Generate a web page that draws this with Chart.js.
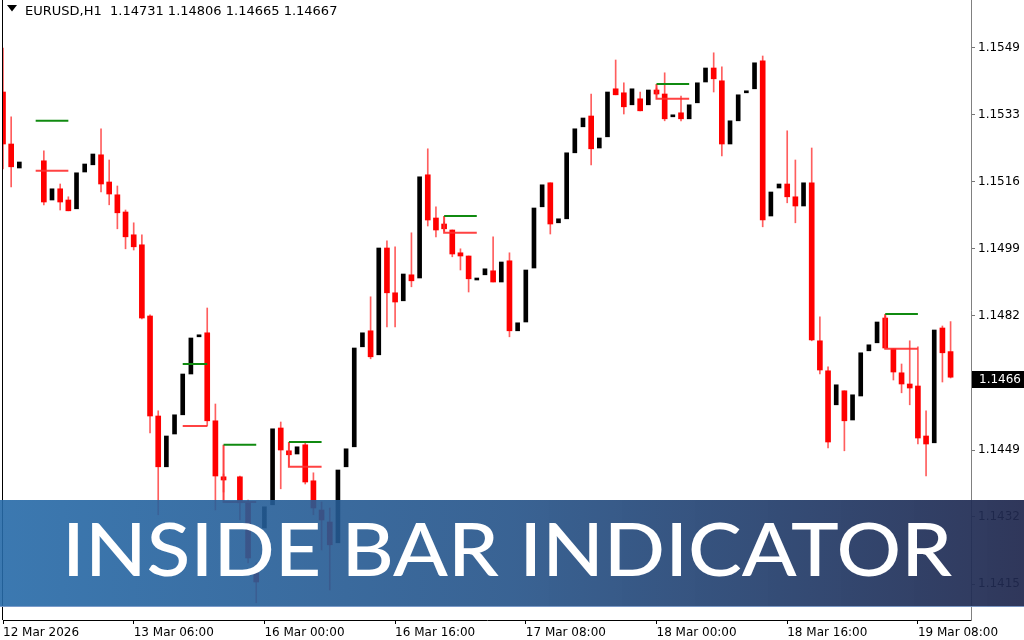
<!DOCTYPE html>
<html>
<head>
<meta charset="utf-8">
<title>EURUSD H1 - Inside Bar Indicator</title>
<script src="https://cdn.jsdelivr.net/npm/chart.js@4.4.1/dist/chart.umd.min.js"></script>
<style>
  html, body { margin: 0; padding: 0; background: #fff; }
  #wrap { width: 1024px; height: 640px; position: relative; }
</style>
</head>
<body>
<div id="wrap"><canvas id="chart" width="1024" height="640"></canvas></div>
<script>
// hourly bars, index 0 = 12 Mar 2026 (null = no bar drawn)
var opens = [
  1.15380, 1.15250, 1.15190, null, null, 1.15208, 1.15110, 1.15138, 1.15110, 1.15088,
  1.15180, 1.15198, 1.15223, 1.15155, 1.15123, 1.15080, 1.15023, 1.14998, 1.14820, 1.14570,
  1.14443, 1.14525, 1.14573, 1.14675, 1.14768, 1.14778, 1.14558, 1.14418, null, 1.14418,
  1.14355, 1.14180, 1.14290, 1.14348, 1.14540, 1.14483, 1.14475, 1.14498, 1.14408, 1.14335,
  1.14305, 1.14253, 1.14443, 1.14493, 1.14743, 1.14783, 1.14723, 1.14990, 1.14878, 1.14858,
  1.14923, 1.14915, 1.15173, 1.15065, 1.15050, 1.15035, 1.14978, 1.14970, 1.14910, 1.14923,
  1.14933, 1.14905, 1.14958, 1.14783, 1.14805, 1.14940, 1.15093, 1.15153, 1.15053, 1.15063,
  1.15228, 1.15293, 1.15320, 1.15240, 1.15268, 1.15388, 1.15378, 1.15348, 1.15363, 1.15348,
  1.15385, 1.15375, 1.15318, 1.15328, 1.15313, 1.15353, 1.15405, 1.15440, 1.15408, 1.15250,
  1.15308, 1.15378, 1.15388, 1.15458, 1.15070, 1.15140, 1.15150, 1.15118, 1.15095, 1.15153,
  1.14758, 1.14683, 1.14598, 1.14633, 1.14560, 1.14620, 1.14733, 1.14753, 1.14815, 1.14738,
  1.14678, 1.14650, 1.14645, 1.14520, 1.14503, 1.14790, 1.14731
];
var highs = [
  1.15490, 1.15318, 1.15205, null, null, 1.15233, 1.15138, 1.15150, 1.15118, 1.15178,
  1.15200, 1.15225, 1.15288, 1.15210, 1.15145, 1.15085, 1.15053, 1.15023, 1.14823, 1.14583,
  1.14520, 1.14573, 1.14675, 1.14765, 1.14770, 1.14840, 1.14600, 1.14425, null, 1.14420,
  1.14360, 1.14203, 1.14343, 1.14538, 1.14555, 1.14483, 1.14493, 1.14503, 1.14428, 1.14355,
  1.14340, 1.14435, 1.14488, 1.14740, 1.14778, 1.14868, 1.14990, 1.15008, 1.14993, 1.14925,
  1.15028, 1.15168, 1.15238, 1.15093, 1.15055, 1.15035, 1.14988, 1.14970, 1.14915, 1.14938,
  1.15018, 1.14955, 1.14978, 1.14803, 1.14935, 1.15090, 1.15148, 1.15153, 1.15063, 1.15228,
  1.15288, 1.15315, 1.15375, 1.15265, 1.15380, 1.15460, 1.15403, 1.15388, 1.15380, 1.15385,
  1.15390, 1.15428, 1.15323, 1.15370, 1.15348, 1.15403, 1.15440, 1.15478, 1.15443, 1.15308,
  1.15373, 1.15383, 1.15453, 1.15470, 1.15130, 1.15150, 1.15283, 1.15210, 1.15153, 1.15240,
  1.14818, 1.14693, 1.14648, 1.14633, 1.14623, 1.14728, 1.14748, 1.14805, 1.14820, 1.14738,
  1.14700, 1.14758, 1.14743, 1.14583, 1.14785, 1.14795, 1.14806
];
var lows = [
  1.15188, 1.15143, 1.15190, null, null, 1.15098, 1.15110, 1.15085, 1.15083, 1.15088,
  1.15180, 1.15198, 1.15130, 1.15098, 1.15038, 1.14988, 1.14985, 1.14813, 1.14528, 1.14323,
  1.14443, 1.14525, 1.14573, 1.14675, 1.14768, 1.14545, 1.14335, 1.14380, null, 1.14310,
  1.14203, 1.14103, 1.14290, 1.14348, 1.14388, 1.14473, 1.14475, 1.14400, 1.14323, 1.14235,
  1.14135, 1.14253, 1.14443, 1.14493, 1.14743, 1.14713, 1.14723, 1.14793, 1.14793, 1.14858,
  1.14893, 1.14915, 1.15045, 1.15018, 1.15033, 1.14968, 1.14935, 1.14880, 1.14910, 1.14923,
  1.14905, 1.14905, 1.14768, 1.14783, 1.14805, 1.14940, 1.15093, 1.15025, 1.15053, 1.15063,
  1.15228, 1.15293, 1.15198, 1.15240, 1.15268, 1.15373, 1.15325, 1.15348, 1.15333, 1.15348,
  1.15373, 1.15308, 1.15318, 1.15308, 1.15313, 1.15353, 1.15405, 1.15380, 1.15220, 1.15250,
  1.15308, 1.15378, 1.15388, 1.15043, 1.15070, 1.15140, 1.15103, 1.15053, 1.15095, 1.14758,
  1.14675, 1.14490, 1.14598, 1.14483, 1.14560, 1.14620, 1.14733, 1.14753, 1.14740, 1.14660,
  1.14628, 1.14598, 1.14500, 1.14420, 1.14503, 1.14655, 1.14665
];
var closes = [
  1.15250, 1.15193, 1.15205, null, null, 1.15105, 1.15138, 1.15105, 1.15083, 1.15178,
  1.15200, 1.15225, 1.15150, 1.15125, 1.15078, 1.15018, 1.14993, 1.14815, 1.14570, 1.14443,
  1.14520, 1.14573, 1.14675, 1.14765, 1.14770, 1.14558, 1.14420, 1.14410, null, 1.14353,
  1.14215, 1.14155, 1.14343, 1.14538, 1.14485, 1.14473, 1.14493, 1.14405, 1.14340, 1.14310,
  1.14248, 1.14435, 1.14488, 1.14740, 1.14778, 1.14718, 1.14990, 1.14878, 1.14855, 1.14925,
  1.14908, 1.15168, 1.15060, 1.15035, 1.15038, 1.14975, 1.14970, 1.14913, 1.14915, 1.14938,
  1.14905, 1.14955, 1.14783, 1.14803, 1.14935, 1.15090, 1.15148, 1.15050, 1.15063, 1.15228,
  1.15288, 1.15315, 1.15238, 1.15265, 1.15380, 1.15373, 1.15343, 1.15388, 1.15333, 1.15385,
  1.15375, 1.15313, 1.15323, 1.15313, 1.15348, 1.15403, 1.15440, 1.15413, 1.15250, 1.15308,
  1.15373, 1.15383, 1.15453, 1.15060, 1.15130, 1.15150, 1.15118, 1.15095, 1.15153, 1.14760,
  1.14685, 1.14505, 1.14648, 1.14558, 1.14623, 1.14728, 1.14748, 1.14805, 1.14740, 1.14680,
  1.14650, 1.14640, 1.14515, 1.14500, 1.14785, 1.14728, 1.14667
];

// inside bar levels: start bar, end bar, mother high (green), mother low (red)
var ibStart = [4, 22, 27, 35, 54, 80, 108];
var ibEnd   = [8, 25, 31, 39, 58, 84, 112];
var ibHigh  = [1.15308, 1.14700, 1.14498, 1.14505, 1.15070, 1.15400, 1.14825];
var ibLow   = [1.15183, 1.14545, 1.14355, 1.14443, 1.15028, 1.15363, 1.14738];
var ibStem  = [false, false, true, true, true, true, true];

// axis
var xTickBars   = [0, 16, 32, 48, 64, 80, 96, 112];
var xTickLabels = ['12 Mar 2026', '13 Mar 06:00', '16 Mar 00:00', '16 Mar 16:00',
                   '17 Mar 08:00', '18 Mar 00:00', '18 Mar 16:00', '19 Mar 08:00'];
var yTickValues = [1.1549, 1.153225, 1.15155, 1.149875, 1.1482, 1.146525, 1.14485, 1.143175, 1.1415];
var yTickLabels = ['1.1549', '1.1533', '1.1516', '1.1499', '1.1482', '1.1466', '1.1449', '1.1432', '1.1415'];
var lastPrice = 1.14667;
var header = 'EURUSD,H1  1.14731 1.14806 1.14665 1.14667';
var banner = 'INSIDE BAR INDICATOR';

var wicks = [], wickColors = [], redBodies = [], blackBodies = [];
for (var i = 0; i < opens.length; i++) {
  if (opens[i] == null) continue;
  var bear = closes[i] < opens[i];
  if (highs[i] > Math.max(opens[i], closes[i]) || lows[i] < Math.min(opens[i], closes[i])) {
    wicks.push({x: i, y: [lows[i], highs[i]]});
    wickColors.push(bear ? 'rgba(255,40,40,0.75)' : '#000');
  }
  if (bear) redBodies.push({x: i, y: [opens[i], closes[i]]});
  else blackBodies.push({x: i, y: [opens[i], closes[i]]});
}

var datasets = [
  {type: 'bar', data: wicks, backgroundColor: wickColors, barThickness: 1, grouped: false, order: 3},
  {type: 'bar', data: redBodies, backgroundColor: '#ff0000', barThickness: 5, minBarLength: 2, grouped: false, order: 2},
  {type: 'bar', data: blackBodies, backgroundColor: '#000', barThickness: 4, minBarLength: 2, grouped: false, order: 2}
];
ibStart.forEach(function (s, k) {
  var e = ibEnd[k];
  var red = ibStem[k]
    ? [{x: s, y: ibHigh[k]}, {x: s, y: ibLow[k]}, {x: e, y: ibLow[k]}]
    : [{x: s, y: ibLow[k]}, {x: e, y: ibLow[k]}];
  datasets.push({type: 'line', data: red, borderColor: 'rgba(255,45,45,0.9)', borderWidth: 2,
    pointRadius: 0, tension: 0, borderJoinStyle: 'miter', order: 1});
  datasets.push({type: 'line', data: [{x: s, y: ibHigh[k]}, {x: e, y: ibHigh[k]}],
    borderColor: '#108a10', borderWidth: 2, pointRadius: 0, tension: 0, order: 0});
});

var mt4Plugin = {
  id: 'mt4',
  beforeDatasetsDraw: function (chart) {
    var c = chart.ctx, a = chart.chartArea;
    c.save();
    c.strokeStyle = '#000';
    c.lineWidth = 1;
    c.beginPath();
    c.moveTo(a.left - 0.5, 0);
    c.lineTo(a.left - 0.5, a.bottom);
    c.stroke();
    c.restore();
  },
  afterDraw: function (chart) {
    var c = chart.ctx, a = chart.chartArea;
    var y = Math.round(chart.scales.y.getPixelForValue(lastPrice));
    c.save();
    // current price box
    c.fillStyle = '#000';
    c.fillRect(a.right + 1, y - 6, 53, 17);
    c.fillStyle = '#fff';
    c.font = '12px "DejaVu Sans"';
    c.textBaseline = 'middle';
    c.fillText(yTickLabels[5], a.right + 8, y + 3);

    // header
    c.fillStyle = '#000';
    c.beginPath();
    c.moveTo(7, 5); c.lineTo(17, 5); c.lineTo(12, 11.5); c.closePath();
    c.fill();
    c.font = '13px "DejaVu Sans"';
    c.textBaseline = 'alphabetic';
    c.fillText(header, 25, 15);

    // banner
    var g = c.createLinearGradient(0, 0, 1024, 0);
    g.addColorStop(0, 'rgba(38,106,168,0.9)');
    g.addColorStop(0.5, 'rgba(36,82,136,0.9)');
    g.addColorStop(1, 'rgba(32,40,78,0.93)');
    c.fillStyle = g;
    c.fillRect(0, 500, 1024, 107);
    c.fillStyle = 'rgba(130,160,205,0.9)';
    c.fillRect(0, 606, 1024, 1);
    c.font = '500 74px Lato, "Open Sans", sans-serif';
    var w = c.measureText(banner).width;
    c.translate(62, 576);
    c.scale(890 / w, 1);
    c.fillStyle = '#fff';
    c.fillText(banner, 0, 0);
    c.restore();
  }
};

new Chart(document.getElementById('chart'), {
  data: {datasets: datasets},
  options: {
    responsive: false,
    devicePixelRatio: 1,
    animation: false,
    layout: {padding: {left: 3, top: 0, right: 0, bottom: 0}},
    plugins: {legend: {display: false}, tooltip: {enabled: false}},
    scales: {
      x: {
        type: 'linear',
        offset: false,
        min: 0,
        max: 118.5,
        afterFit: function (s) { s.height = 20; s.paddingLeft = 0; s.paddingRight = 0; },
        afterBuildTicks: function (s) { s.ticks = xTickBars.map(function (v) { return {value: v}; }); },
        grid: {offset: false, drawOnChartArea: false, tickLength: 4, color: '#000'},
        border: {color: '#000'},
        ticks: {
          autoSkip: false, maxRotation: 0, align: 'start', padding: 2, color: '#000',
          font: {family: 'DejaVu Sans', size: 12},
          callback: function (v, idx) { return xTickLabels[idx]; }
        }
      },
      y: {
        position: 'right',
        min: 1.1406,
        max: 1.1561,
        afterFit: function (s) { s.width = 53; s.paddingTop = 0; s.paddingBottom = 0; },
        afterBuildTicks: function (s) { s.ticks = yTickValues.map(function (v) { return {value: v}; }); },
        grid: {drawOnChartArea: false, tickLength: 4, color: '#777'},
        border: {color: '#808080'},
        ticks: {
          autoSkip: false, padding: 3, color: '#000',
          font: {family: 'DejaVu Sans', size: 12},
          callback: function (v, idx) { return yTickLabels[idx]; }
        }
      }
    }
  },
  plugins: [mt4Plugin]
});
</script>
</body>
</html>
